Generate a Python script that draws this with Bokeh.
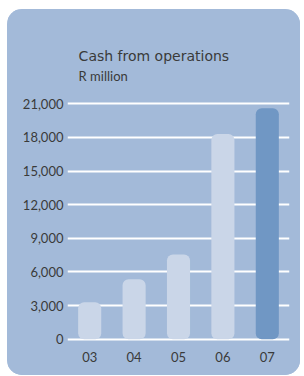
from bokeh.plotting import figure
from bokeh.models import ColumnDataSource, FixedTicker, NumeralTickFormatter, Label, Range1d
from bokeh.embed import file_html
from bokeh.resources import INLINE

years = ["03", "04", "05", "06", "07"]
cash = [3300, 5350, 7550, 18300, 20600]
colors = ["#CAD6E8", "#CAD6E8", "#CAD6E8", "#CAD6E8", "#7097C4"]
y_ticks = [0, 3000, 6000, 9000, 12000, 15000, 18000, 21000]

PANEL = "#A3BAD9"
TEXT = "#3A3A3A"

src = ColumnDataSource(dict(years=years, cash=cash, colors=colors))

p = figure(x_range=years, y_range=Range1d(-200, 27531), width=293, height=366,
           output_backend="svg", toolbar_location=None, title=None,
           min_border_left=60, min_border_right=11, min_border_top=21, min_border_bottom=34)
p.margin = (9, 0, 0, 7)
p.background_fill_color = PANEL
p.border_fill_color = PANEL
p.outline_line_color = None
p.styles = {"border-radius": "15px", "overflow": "hidden", "background-color": PANEL}

p.vbar(x="years", top="cash", bottom=0, width=0.52, source=src,
       fill_color="colors", line_color=None, border_radius=6)

p.xgrid.grid_line_color = None
p.ygrid.grid_line_color = "white"
p.ygrid.grid_line_width = 2
p.ygrid.ticker = FixedTicker(ticks=y_ticks)

ya = p.yaxis[0]
ya.ticker = FixedTicker(ticks=y_ticks)
ya.formatter = NumeralTickFormatter(format="0,0")
ya.axis_line_color = None
ya.major_tick_line_color = None
ya.minor_tick_line_color = None
ya.major_tick_out = 0
ya.major_tick_in = 0
ya.major_label_standoff = 4
ya.major_label_text_font = "Lato"
ya.major_label_text_font_size = "13px"
ya.major_label_text_color = TEXT

xa = p.xaxis[0]
xa.axis_line_color = None
xa.major_tick_line_color = None
xa.major_tick_out = 0
xa.major_tick_in = 0
xa.major_label_standoff = 10
xa.major_label_text_font = "Lato"
xa.major_label_text_font_size = "13px"
xa.major_label_text_color = TEXT

main = Label(x=0.25, y=25213, text="Cash from operations",
             text_font="DejaVu Sans", text_font_size="14px", text_color=TEXT,
             text_baseline="alphabetic")
sub = Label(x=0.25, y=23518, text="R million",
            text_font="Lato", text_font_size="13px", text_color=TEXT,
            text_baseline="alphabetic")
p.add_layout(main)
p.add_layout(sub)

open("out.html", "w").write(file_html(p, INLINE))
